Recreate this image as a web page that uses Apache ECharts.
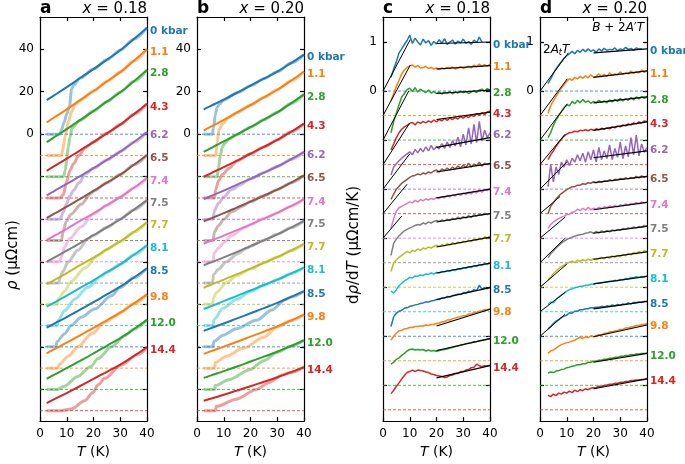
<!DOCTYPE html>
<html>
<head>
<meta charset="utf-8">
<script src="https://cdn.jsdelivr.net/npm/echarts@6/dist/echarts.min.js"></script>
<style>
  html, body { margin: 0; padding: 0; background: #fff; }
  #chart { width: 685px; height: 464px; }
</style>
</head>
<body>
<div id="chart"></div>
<script>
// pressure labels, one row per curve (top to bottom)
const pressures = ['0 kbar', '1.1', '2.8', '4.3', '6.2', '6.5', '7.4', '7.5', '7.7', '8.1', '8.5', '9.8', '12.0', '14.4'];
const palette = ['#1f77b4', '#ff7f0e', '#2ca02c', '#d62728', '#9467bd', '#8c564b', '#e377c2', '#7f7f7f', '#bcbd22', '#17becf'];

// vertical offsets of the stacked curves
const rhoOffsets = [0, -10, -20, -30, -40, -50, -60, -70, -80, -90, -100, -110, -120, -130];
const derOffsets = [0, -0.5, -1, -1.5, -2, -2.5, -3, -3.5, -4, -4.5, -5, -5.5, -6, -6.5];

// rho(T), normal state (dark curves), read at these temperatures
const tRho = [2.5, 5, 10, 15, 20, 25, 30, 35, 40];
const rhoA = [
  [16, 18, 22.1, 26.4, 30.6, 35, 39.5, 44.6, 50],
  [15.5, 17.6, 21.7, 26, 30.3, 34.8, 39.2, 44.4, 49.9],
  [16.3, 18.3, 22.4, 26.6, 30.9, 35.3, 39.7, 44.8, 50.2],
  [12.8, 14.7, 18.5, 22.4, 26.3, 30.4, 34.5, 39.3, 44.3],
  [11.2, 13, 16.6, 20.3, 24, 27.9, 31.8, 36.2, 41],
  [10.6, 12.4, 15.9, 19.6, 23.3, 27.2, 31, 35.5, 40.2],
  [10.3, 12, 15.5, 19.2, 22.8, 26.6, 30.4, 34.7, 39.4],
  [10, 11.7, 15.2, 18.8, 22.5, 26.2, 30, 34.4, 39],
  [9.5, 11.2, 14.7, 18.4, 22, 25.8, 29.6, 33.9, 38.6],
  [8.9, 10.6, 14.1, 17.7, 21.3, 25.1, 28.8, 33.2, 37.8],
  [9, 10.7, 14, 17.5, 21, 24.7, 28.3, 32.5, 37],
  [7, 8.7, 12, 15.4, 18.9, 22.5, 26.1, 30.3, 34.7],
  [5, 6.7, 10, 13.4, 16.9, 20.5, 24.1, 28.3, 32.7],
  [3.6, 5.2, 8.3, 11.6, 14.9, 18.3, 21.7, 25.6, 29.8]
];
const rhoB = [
  [11.7, 13.2, 16.3, 19.5, 22.8, 26.1, 29.4, 33.3, 37.4],
  [11.7, 13.4, 16.7, 20.2, 23.7, 27.3, 30.9, 35, 39.5],
  [11.7, 13.3, 16.6, 19.9, 23.3, 26.8, 30.3, 34.4, 38.7],
  [10, 11.5, 14.5, 17.6, 20.8, 24, 27.3, 31, 35],
  [9.5, 10.8, 13.5, 16.3, 19, 21.9, 24.8, 28.1, 31.7],
  [9, 10.3, 12.9, 15.6, 18.3, 21.1, 23.9, 27.1, 30.6],
  [8.5, 9.8, 12.3, 14.9, 17.5, 20.3, 23, 26.1, 29.5],
  [8.3, 9.6, 12.1, 14.7, 17.4, 20.1, 22.9, 26, 29.2],
  [7.8, 9.1, 11.6, 14.2, 16.8, 19.5, 22.2, 25.2, 28.4],
  [7.8, 9, 11.5, 14, 16.5, 19.1, 21.6, 24.4, 27.3],
  [7.5, 8.7, 11, 13.4, 15.8, 18.2, 20.7, 23.4, 26.2],
  [6.7, 7.9, 10.1, 12.4, 14.8, 17.2, 19.6, 22.3, 25.2],
  [5.4, 6.5, 8.6, 10.8, 13.1, 15.4, 17.7, 20.3, 23.1],
  [4.7, 5.6, 7.5, 9.5, 11.5, 13.6, 15.7, 18, 20.5]
];

// rho(T), zero field (light curves): [T, rho] up to where they join the dark curve
const lightA = [
  [[2.5, 0], [7.4, 0], [8, 2], [9, 5.5], [10, 9.5], [11, 13], [11.8, 21], [12.5, 23]],
  [[2.5, 0], [8, 0], [8.6, 3], [9.3, 8.6], [10.6, 16], [11.8, 20.5], [13, 23.8]],
  [[2.5, 0], [8.7, 0], [9.5, 3], [10, 9], [10.6, 14], [11.2, 18.6], [12, 23]],
  [[2.5, 0], [7.5, 0], [8.7, 1.5], [10, 8], [11.2, 13], [12.5, 16], [14.5, 20], [17, 23.8]],
  [[2.5, 0], [7.5, 0], [8.6, 3], [9.8, 7], [11.1, 10.8], [12.5, 13.5], [14.5, 17], [17, 21.3]],
  [[2.5, 0], [8, 0], [8.6, 4], [9.8, 9], [11.7, 12.5], [15.4, 17], [19, 22]],
  [[2.5, 0], [7.5, 0], [8, 2.4], [9.2, 7], [11.1, 11], [15.4, 16.5], [20, 22.5]],
  [[2.5, 0], [7, 0], [7.4, 2.4], [8.6, 5.5], [10.5, 10], [14.2, 15.5], [18, 20.8]],
  [[2.5, 0], [6.5, 0], [6.7, 2.4], [9.2, 6.2], [11.7, 10.9], [16.7, 17], [21.7, 22.9]],
  [[2.5, 0], [6.5, 0], [6.7, 2.4], [9.2, 7], [13, 12.5], [17.9, 18], [23, 23.3]],
  [[2.5, 0], [6, 0], [6.3, 2.4], [9.2, 6.2], [11.7, 10.1], [15.4, 13.9], [20.4, 17.8], [26.7, 24], [30, 27.9]],
  [[2.5, 0], [6.8, 0], [7, 1.6], [10.5, 5.5], [14.2, 10], [19.2, 16], [24.2, 21.5], [28, 24.3]],
  [[2.5, 0], [6.5, 0], [9, 1.5], [14, 6], [19, 10.8], [21.7, 14.5], [26.7, 20], [32, 25.5]],
  [[2.5, 0], [8, 0], [11.7, 0.8], [16.7, 4.7], [19.8, 8.5], [21.7, 12.2], [24.2, 15.2], [30.4, 21.5], [36.6, 26.5], [40, 29.5]]
];
const lightB = [
  [[2.5, 0], [5.7, 0], [6.2, 3], [6.8, 9], [7.5, 12.5], [8.5, 14.3], [10, 16]],
  [[2.5, 0], [7, 0], [7.5, 6], [8.2, 12], [9.5, 14.8], [11.5, 17.5], [13, 18.8]],
  [[2.5, 0], [7.5, 0], [8, 4], [8.7, 10], [9.5, 14], [10.5, 16], [12, 17.8]],
  [[2.5, 0], [6.5, 0], [7, 4], [8, 8], [9.5, 11], [12, 14], [15, 17.4]],
  [[2.5, 0], [6, 0], [6.5, 4], [8, 7.5], [10, 10.5], [13, 14], [16, 16.1]],
  [[2.5, 0], [6, 0], [6.5, 4], [8, 7], [10, 10], [13, 13.5], [17, 16.1]],
  [[2.5, 0], [6, 0], [6.4, 4], [8, 6.5], [10, 9], [13, 12.5], [18, 16.2]],
  [[2.5, 0], [5.8, 0], [6.2, 4], [8, 6.5], [11, 10], [15, 13.7], [19, 16.6]],
  [[2.5, 0], [5.8, 0], [6.2, 3], [7.2, 5.5], [11, 10.2], [15, 13.6], [20, 16.6]],
  [[2.5, 0], [5.8, 0], [6.6, 3.2], [9.7, 8.2], [14.7, 12.3], [20, 16], [25, 18.9]],
  [[2.5, 0], [5.8, 0], [6.4, 2.6], [9.7, 5.5], [14.7, 8.5], [22.2, 12.5], [28, 17.3], [33, 22.2]],
  [[2.5, 0], [6.6, 0], [6.8, 2.6], [11, 5.6], [17.2, 9.3], [25, 14.5], [30, 19.4]],
  [[2.5, 0], [6.6, 0], [6.8, 1.8], [12.2, 4.7], [19.7, 9.3], [25, 13.5], [30, 17.5]],
  [[2.5, 0], [6.9, 0], [7.2, 2], [14.7, 5.4], [22.2, 10], [27, 13.3], [32, 16.8]]
];

// d rho / dT, read every 1 K from 3 K
const tDer = [3, 4, 5, 6, 7, 8, 9, 10, 11, 12, 13, 14, 15, 16, 17, 18, 19, 20, 21, 22, 23, 24, 25, 26, 27, 28, 29, 30, 31, 32, 33, 34, 35, 36, 37, 38, 39, 40];
const derC = [
  [0.28,0.45,0.6,0.78,0.86,0.95,1.03,1.14,0.97,1.08,1.0,0.94,1.06,0.98,1.03,0.93,1.01,0.96,1.05,0.97,1.07,0.95,1.0,1.04,0.96,1.02,0.98,1.06,0.97,1.01,0.95,1.04,0.99,1.1,1.0],
  [0.3,0.45,0.6,0.72,0.85,0.93,0.98,1.01,1.03,0.99,1.02,0.97,0.98,1.0,0.96,0.98,0.95,0.97,0.94,0.97,0.95,0.98,0.96,0.99,0.95,0.97,1.0,0.96,0.98,1.01,0.97,1.03,0.99,1.05,1.0,1.04,1.01,1.05],
  [0.15,0.38,0.55,0.72,0.88,0.95,1.03,1.06,0.99,1.07,0.98,1.04,1.0,0.97,1.02,0.96,0.99,0.95,0.98,0.94,0.97,0.96,0.99,0.94,0.98,0.96,1.0,0.97,0.99,0.95,0.98,1.01,0.97,1.02,1.04,0.99,1.05,1.02],
  [0.3,0.42,0.55,0.65,0.72,0.77,0.8,0.84,0.86,0.81,0.87,0.84,0.88,0.85,0.89,0.86,0.91,0.87,0.92,0.89,0.94,0.9,0.95,0.92,0.96,0.93,0.98,0.95,0.99,0.96,1.01,0.98,1.04,1.0,1.06,1.02,1.08,1.09],
  [0.29,0.45,0.52,0.58,0.63,0.68,0.72,0.76,0.7,0.81,0.74,0.83,0.76,0.86,0.78,0.89,0.8,0.87,0.82,0.93,0.83,0.96,0.85,0.99,0.88,1.06,0.86,1.12,0.9,1.25,0.92,1.32,0.95,1.38,0.98,1.2,1.05,1.15],
  [0.29,0.4,0.5,0.56,0.62,0.66,0.7,0.74,0.77,0.78,0.81,0.79,0.83,0.81,0.85,0.83,0.87,0.89,0.85,0.91,0.88,0.93,0.89,0.95,0.91,0.97,0.93,0.99,0.94,1.03,0.95,1.01,0.98,1.05,0.97,1.03,1.0,1.03],
  [0.2,0.4,0.55,0.62,0.65,0.68,0.71,0.74,0.72,0.77,0.74,0.79,0.76,0.8,0.78,0.81,0.79,0.83,0.81,0.85,0.82,0.87,0.84,0.88,0.86,0.91,0.87,0.92,0.89,0.94,0.9,0.96,0.92,0.98,0.94,0.99,0.97,1.0],
  [0.15,0.4,0.48,0.55,0.6,0.65,0.68,0.71,0.73,0.76,0.78,0.77,0.81,0.79,0.83,0.81,0.84,0.86,0.84,0.87,0.85,0.89,0.86,0.91,0.88,0.93,0.89,0.94,0.91,0.96,0.92,0.98,0.95,0.99,0.97,1.01,0.98,1.0],
  [0.32,0.5,0.56,0.61,0.65,0.69,0.73,0.7,0.75,0.73,0.78,0.75,0.8,0.78,0.82,0.8,0.83,0.86,0.83,0.87,0.84,0.89,0.86,0.91,0.88,0.92,0.9,0.94,0.92,0.96,0.93,0.98,0.95,1.0,0.97,1.03,1.0,1.03],
  [0.42,0.38,0.45,0.53,0.58,0.63,0.66,0.7,0.69,0.73,0.72,0.75,0.74,0.77,0.76,0.79,0.77,0.8,0.79,0.82,0.81,0.84,0.82,0.86,0.84,0.88,0.86,0.9,0.88,0.92,0.9,0.94,0.92,0.96,0.94,0.98,0.96,0.99],
  [0.2,0.4,0.47,0.51,0.53,0.57,0.58,0.61,0.62,0.64,0.65,0.67,0.68,0.7,0.7,0.72,0.73,0.75,0.75,0.78,0.78,0.81,0.8,0.83,0.84,0.86,0.85,0.89,0.88,0.92,0.91,0.95,0.93,1.04,0.96,0.99,0.97,1.0],
  [0.42,0.5,0.56,0.61,0.62,0.65,0.66,0.68,0.68,0.7,0.7,0.71,0.71,0.73,0.72,0.74,0.74,0.76,0.77,0.79,0.8,0.83,0.83,0.86,0.87,0.89,0.9,0.92,0.92,0.95,0.96,0.98,0.99,1.01,1.02,1.04,1.04,1.06],
  [0.43,0.47,0.53,0.56,0.61,0.65,0.7,0.73,0.74,0.72,0.73,0.72,0.73,0.7,0.72,0.7,0.71,0.69,0.71,0.72,0.73,0.74,0.76,0.77,0.79,0.8,0.82,0.83,0.85,0.86,0.87,0.89,0.89,0.91,0.92,0.93,0.94,0.95],
  [0.33,0.4,0.48,0.55,0.63,0.7,0.76,0.78,0.81,0.78,0.81,0.8,0.79,0.77,0.76,0.73,0.72,0.7,0.69,0.68,0.66,0.67,0.7,0.71,0.74,0.74,0.78,0.78,0.81,0.82,0.86,0.87,0.93,0.9,0.88,0.9,0.9,0.91]
];
const derD = [
  [0.15,0.25,0.36,0.45,0.53,0.6,0.67,0.72,0.76,0.81,0.76,0.83,0.79,0.85,0.8,0.86,0.81,0.84,0.79,0.86,0.82,0.87,0.83,0.85,0.84,0.88,0.82,0.86,0.84,0.89,0.85,0.87,0.83,0.88,0.86,0.87],
  [0.05,0.2,0.3,0.39,0.48,0.56,0.63,0.7,0.75,0.72,0.78,0.75,0.8,0.76,0.81,0.77,0.83,0.78,0.8,0.85,0.79,0.84,0.8,0.87,0.82,0.85,0.83,0.89,0.84,0.87,0.85,0.91,0.86,0.89,0.87,0.93,0.88,0.91],
  [0.05,0.15,0.3,0.41,0.5,0.58,0.66,0.72,0.7,0.79,0.74,0.81,0.76,0.83,0.77,0.8,0.75,0.79,0.76,0.81,0.77,0.8,0.76,0.82,0.78,0.83,0.79,0.85,0.8,0.84,0.81,0.87,0.82,0.88,0.84,0.89,0.85,0.88],
  [0.1,0.2,0.28,0.37,0.45,0.52,0.58,0.62,0.65,0.66,0.68,0.67,0.7,0.69,0.71,0.69,0.72,0.7,0.73,0.71,0.74,0.72,0.75,0.73,0.77,0.75,0.79,0.77,0.81,0.79,0.83,0.81,0.85,0.83,0.87,0.85,0.89,0.88],
  [0.05,0.5,0.15,0.45,0.3,0.55,0.45,0.6,0.48,0.63,0.55,0.7,0.58,0.73,0.55,0.76,0.6,0.8,0.55,0.85,0.6,0.78,0.62,0.9,0.6,0.83,0.65,0.96,0.62,0.88,0.66,1.05,0.7,1.1,0.68,0.92,0.75,0.85],
  [0.0,0.15,0.22,0.3,0.36,0.41,0.45,0.49,0.52,0.55,0.55,0.58,0.58,0.61,0.6,0.63,0.62,0.65,0.63,0.66,0.64,0.67,0.66,0.69,0.67,0.7,0.69,0.72,0.7,0.73,0.71,0.74,0.72,0.76,0.73,0.77,0.74,0.76],
  [0.2,0.28,0.33,0.37,0.4,0.43,0.45,0.48,0.49,0.53,0.54,0.59,0.56,0.61,0.57,0.63,0.58,0.61,0.59,0.63,0.6,0.64,0.62,0.66,0.63,0.67,0.64,0.68,0.66,0.7,0.67,0.71,0.69,0.73,0.7,0.74,0.72,0.74],
  [0.1,0.18,0.24,0.3,0.35,0.4,0.44,0.47,0.5,0.52,0.54,0.56,0.57,0.58,0.6,0.61,0.63,0.6,0.64,0.61,0.65,0.62,0.66,0.63,0.67,0.65,0.68,0.66,0.7,0.68,0.71,0.7,0.73,0.71,0.74,0.72,0.76,0.75],
  [0.15,0.2,0.28,0.33,0.38,0.42,0.45,0.48,0.51,0.53,0.5,0.55,0.53,0.56,0.54,0.57,0.55,0.58,0.56,0.59,0.61,0.58,0.62,0.59,0.64,0.61,0.65,0.62,0.67,0.64,0.69,0.66,0.71,0.68,0.73,0.7,0.75,0.73],
  [0.15,0.2,0.18,0.25,0.3,0.34,0.38,0.42,0.45,0.47,0.49,0.5,0.52,0.52,0.54,0.54,0.56,0.56,0.58,0.58,0.59,0.6,0.61,0.62,0.62,0.64,0.63,0.66,0.65,0.68,0.67,0.7,0.69,0.72,0.7,0.72,0.71,0.73],
  [0.15,0.2,0.26,0.31,0.34,0.38,0.41,0.43,0.48,0.47,0.51,0.51,0.54,0.54,0.56,0.56,0.58,0.58,0.59,0.59,0.61,0.6,0.62,0.61,0.64,0.62,0.65,0.63,0.66,0.65,0.68,0.66,0.69,0.69,0.7,0.69,0.71,0.71],
  [0.15,0.2,0.22,0.26,0.3,0.33,0.35,0.37,0.38,0.4,0.42,0.45,0.48,0.45,0.49,0.47,0.51,0.49,0.51,0.53,0.53,0.56,0.56,0.59,0.59,0.61,0.62,0.64,0.64,0.67,0.67,0.69,0.7,0.72,0.72,0.74,0.74,0.76],
  [0.25,0.27,0.26,0.29,0.3,0.32,0.33,0.36,0.37,0.39,0.4,0.42,0.42,0.44,0.44,0.47,0.47,0.49,0.49,0.51,0.51,0.53,0.53,0.55,0.55,0.57,0.57,0.59,0.59,0.61,0.61,0.63,0.62,0.64,0.64,0.65,0.65,0.66],
  [0.3,0.27,0.32,0.29,0.34,0.32,0.36,0.34,0.38,0.35,0.4,0.37,0.41,0.39,0.43,0.41,0.44,0.45,0.45,0.48,0.47,0.5,0.5,0.52,0.52,0.54,0.54,0.56,0.56,0.58,0.58,0.6,0.6,0.61,0.61,0.62,0.62,0.64]
];

// fits: low-T line 2A_t T from the baseline at T = 0 to [T, value]
const lowFitC = [[10.2, 1.05], [10.2, 1.03], [9.6, 1.0], [10, 0.85], [10, 0.72], [9, 0.6], [7, 0.45]];
const lowFitD = [[10.6, 0.78], [10.2, 0.75], [10.2, 0.74], [9.4, 0.62], [10, 0.55], [7.5, 0.35], [9.4, 0.43], [9.4, 0.5], [10, 0.47], [9.5, 0.4], [9.4, 0.45]];
// high-T line B + 2A'T: value at 20 K and at 40 K
const highFitT = [20, 40];
const highFitC = [[0.97, 1.0], [0.95, 1.02], [0.95, 1.02], [0.92, 1.07], [0.85, 1.05], [0.85, 1.02], [0.82, 1.0], [0.83, 1.0], [0.82, 1.02], [0.79, 0.99], [0.75, 0.99], [0.71, 1.05], [0.71, 0.95], [0.65, 0.9]];
const highFitD = [[0.78, 0.86], [0.78, 0.91], [0.76, 0.88], [0.7, 0.87], [0.64, 0.78], [0.63, 0.76], [0.58, 0.73], [0.6, 0.74], [0.57, 0.72], [0.57, 0.72], [0.56, 0.71], [0.49, 0.73], [0.47, 0.65], [0.43, 0.63]];

const rhoTicks = [-120, -100, -80, -60, -40, -20, 0, 20, 40];
const rhoTickLabels = [0, 20, 40];
const derTicks = [-6, -5, -4, -3, -2, -1, 0, 1];
const derTickLabels = [0, 1];

const FONT = 'DejaVu Sans';
const chart = echarts.init(document.getElementById('chart'));

const grids = [
  { left: 40, top: 17, width: 107, height: 412 },
  { left: 197, top: 17, width: 107, height: 412 },
  { left: 383, top: 17, width: 107, height: 412 },
  { left: 540, top: 17, width: 107, height: 412 }
];

const xAxes = [];
const yAxes = [];
const series = [];

const axisLine = { show: true, onZero: false, lineStyle: { color: '#000', width: 1.2 } };
const tickBase = { show: true, inside: true, length: 4, lineStyle: { color: '#000', width: 1.2 } };

function addAxes(g, yMin, yMax, ticks, labels) {
  xAxes.push({
    gridIndex: g, type: 'value', position: 'bottom', min: 0, max: 40, interval: 10,
    axisLine: axisLine, axisTick: tickBase, splitLine: { show: false },
    axisLabel: { color: '#000', fontSize: 12, fontFamily: FONT, margin: 7 },
    name: '{i|T} (K)', nameLocation: 'middle', nameGap: 21,
    nameTextStyle: {
      color: '#000', fontSize: 14, fontFamily: FONT,
      rich: { i: { fontStyle: 'italic', fontSize: 14, fontFamily: FONT, color: '#000' } }
    }
  });
  xAxes.push({
    gridIndex: g, type: 'value', position: 'top', min: 0, max: 40, interval: 10,
    axisLine: axisLine, axisTick: tickBase, splitLine: { show: false }, axisLabel: { show: false }
  });
  yAxes.push({
    gridIndex: g, type: 'value', position: 'left', min: yMin, max: yMax,
    axisLine: axisLine, axisTick: Object.assign({}, tickBase, { customValues: ticks }),
    splitLine: { show: false },
    axisLabel: { customValues: labels, color: '#000', fontSize: 12, fontFamily: FONT, margin: 6 }
  });
  yAxes.push({
    gridIndex: g, type: 'value', position: 'right', min: yMin, max: yMax,
    axisLine: axisLine, axisTick: Object.assign({}, tickBase, { customValues: ticks }),
    splitLine: { show: false }, axisLabel: { show: false }
  });
}

// pressure label at the right end of a curve; curves that stop before 40 K
// get their label pushed out to the same column as the others
function endLabel(g, i, lastT) {
  const dx = (40 - lastT) * grids[g].width / 40;
  return {
    show: true, formatter: pressures[i], color: palette[i % 10],
    fontWeight: 'bold', fontSize: 10.5, fontFamily: FONT, distance: 3, offset: [dx, 3]
  };
}

function dashed(g, i, off) {
  series.push({
    type: 'line', xAxisIndex: 2 * g, yAxisIndex: 2 * g, silent: true, showSymbol: false,
    data: [[0, off], [40, off]],
    lineStyle: { color: palette[i % 10], width: 0.9, type: [3, 2], opacity: 0.85 }
  });
}

function addRhoPanel(g, dark, light) {
  pressures.forEach((p, i) => {
    const off = rhoOffsets[i];
    const col = palette[i % 10];
    dashed(g, i, off);
    const pts = light[i].map(d => [d[0], d[1] + off]);
    const lastT = light[i][light[i].length - 1][0];
    tRho.forEach((t, k) => { if (t > lastT) pts.push([t, dark[i][k] + off]); });
    series.push({
      type: 'line', xAxisIndex: 2 * g, yAxisIndex: 2 * g, silent: true, showSymbol: false,
      smooth: 0.3, smoothMonotone: 'x', data: pts,
      lineStyle: { color: col, width: 3, opacity: 0.45 }
    });
    series.push({
      type: 'line', xAxisIndex: 2 * g, yAxisIndex: 2 * g, silent: true, showSymbol: false,
      smooth: true, data: tRho.map((t, k) => [t, dark[i][k] + off]),
      lineStyle: { color: col, width: 2 }, endLabel: endLabel(g, i, 40)
    });
  });
}

function addDerPanel(g, der, lowFit, highFit) {
  pressures.forEach((p, i) => {
    const off = derOffsets[i];
    dashed(g, i, off);
    series.push({
      type: 'line', xAxisIndex: 2 * g, yAxisIndex: 2 * g, silent: true, showSymbol: false,
      data: der[i].map((v, k) => [tDer[k], v + off]),
      lineStyle: { color: palette[i % 10], width: 1.5 },
      endLabel: endLabel(g, i, tDer[der[i].length - 1])
    });
  });
  lowFit.forEach((f, i) => {
    const off = derOffsets[i];
    series.push({
      type: 'line', xAxisIndex: 2 * g, yAxisIndex: 2 * g, silent: true, showSymbol: false,
      data: [[0, off], [f[0], f[1] + off]], lineStyle: { color: '#000', width: 1 }, z: 5
    });
  });
  highFit.forEach((f, i) => {
    const off = derOffsets[i];
    series.push({
      type: 'line', xAxisIndex: 2 * g, yAxisIndex: 2 * g, silent: true, showSymbol: false,
      data: [[highFitT[0], f[0] + off], [highFitT[1], f[1] + off]], lineStyle: { color: '#000', width: 1.2 }, z: 5
    });
  });
}

addAxes(0, -134.9, 55.1, rhoTicks, rhoTickLabels);
addAxes(1, -134.9, 55.1, rhoTicks, rhoTickLabels);
addAxes(2, -6.73, 1.51, derTicks, derTickLabels);
addAxes(3, -6.73, 1.51, derTicks, derTickLabels);

addRhoPanel(0, rhoA, lightA);
addRhoPanel(1, rhoB, lightB);
addDerPanel(2, derC, lowFitC, highFitC);
addDerPanel(3, derD, lowFitD, highFitD);

const it = (size) => ({ fontStyle: 'italic', fontSize: size, fontFamily: FONT, fill: '#000' });
const up = (size) => ({ fontSize: size, fontFamily: FONT, fill: '#000' });

function titleText(x, text) {
  return {
    type: 'text', x: x, y: 9,
    style: { text: text, align: 'right', verticalAlign: 'middle', fontSize: 15, fontFamily: FONT, fill: '#000',
      rich: { i: it(15), n: up(15) } }
  };
}
function letter(x, text) {
  return {
    type: 'text', x: x, y: 9,
    style: { text: text, align: 'left', verticalAlign: 'middle', fontSize: 17, fontWeight: 'bold', fontFamily: FONT, fill: '#000' }
  };
}

const graphic = [
  letter(40, 'a'), titleText(147, '{i|x}{n| = 0.18}'),
  letter(197, 'b'), titleText(304, '{i|x}{n| = 0.20}'),
  letter(383, 'c'), titleText(490, '{i|x}{n| = 0.18}'),
  letter(540, 'd'), titleText(647, '{i|x}{n| = 0.20}'),
  {
    type: 'text', x: 13, y: 255, rotation: Math.PI / 2,
    style: { text: '{i|ρ}{n| (μΩcm)}', align: 'center', verticalAlign: 'middle', fontSize: 15, fontFamily: FONT, fill: '#000',
      rich: { i: it(15), n: up(15) } }
  },
  {
    type: 'text', x: 354, y: 245, rotation: Math.PI / 2,
    style: { text: '{n|d}{i|ρ}{n|/d}{i|T}{n| (μΩcm/K)}', align: 'center', verticalAlign: 'middle', fontSize: 15, fontFamily: FONT, fill: '#000',
      rich: { i: it(15), n: up(15) } }
  },
  {
    type: 'text', x: 543, y: 50,
    style: { text: '{n|2}{i|A}{s|t}{i|T}', align: 'left', verticalAlign: 'middle', fontSize: 12, fontFamily: FONT, fill: '#000',
      rich: { i: it(12), n: up(12), s: { fontStyle: 'italic', fontSize: 8, fontFamily: FONT, fill: '#000', padding: [6, 0, 0, 0] } } }
  },
  {
    type: 'text', x: 644, y: 28,
    style: { text: '{i|B}{n| + 2}{i|A}{n|′}{i|T}', align: 'right', verticalAlign: 'middle', fontSize: 12, fontFamily: FONT, fill: '#000',
      rich: { i: it(12), n: up(12) } }
  }
];

chart.setOption({
  animation: false,
  backgroundColor: '#fff',
  grid: grids,
  xAxis: xAxes,
  yAxis: yAxes,
  series: series,
  graphic: graphic
});
</script>
</body>
</html>
